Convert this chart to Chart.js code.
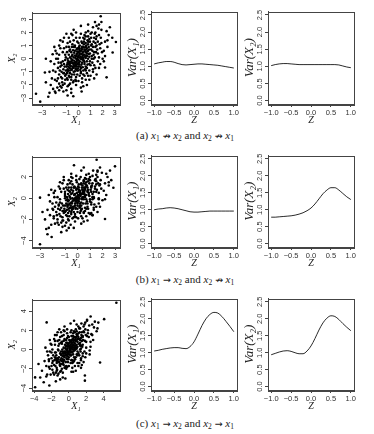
<!DOCTYPE html>
<html><head><meta charset="utf-8">
<script src="https://cdn.jsdelivr.net/npm/chart.js@4.4.1/dist/chart.umd.min.js"></script>
<style>
html,body{margin:0;padding:0;background:#fff;width:374px;height:434px;overflow:hidden}
canvas{position:absolute}
.cap{position:absolute;left:0;width:370px;text-align:center;font-family:'Liberation Serif','DejaVu Serif',serif;font-size:11px;color:#222;line-height:12px;white-space:nowrap}
.cap i{font-style:italic}
.cap sub{font-size:7.5px;vertical-align:-2px;line-height:0}
.cap .ar{font-family:'DejaVu Sans',sans-serif;font-size:9.5px}
</style></head><body>
<canvas id="sa"></canvas><canvas id="la1"></canvas><canvas id="la2"></canvas>
<canvas id="sb"></canvas><canvas id="lb1"></canvas><canvas id="lb2"></canvas>
<canvas id="sc"></canvas><canvas id="lc1"></canvas><canvas id="lc2"></canvas>
<div class="cap" id="capA" style="top:129px">(a) <i>x</i><sub>1</sub> <span class="ar">↛</span> <i>x</i><sub>2</sub> and <i>x</i><sub>2</sub> <span class="ar">↛</span> <i>x</i><sub>1</sub></div>
<div class="cap" id="capB" style="top:273px">(b) <i>x</i><sub>1</sub> <span class="ar">→</span> <i>x</i><sub>2</sub> and <i>x</i><sub>2</sub> <span class="ar">↛</span> <i>x</i><sub>1</sub></div>
<div class="cap" id="capC" style="top:417px">(c) <i>x</i><sub>1</sub> <span class="ar">→</span> <i>x</i><sub>2</sub> and <i>x</i><sub>2</sub> <span class="ar">→</span> <i>x</i><sub>1</sub></div>
<script>
// ---------- data ----------
const zGrid = [-1,-0.9,-0.8,-0.7,-0.6,-0.5,-0.4,-0.3,-0.2,-0.1,0,0.1,0.2,0.3,0.4,0.5,0.6,0.7,0.8,0.9,1];
const varA1 = [1.07,1.10,1.12,1.14,1.14,1.12,1.08,1.05,1.04,1.05,1.06,1.07,1.07,1.06,1.05,1.04,1.03,1.01,0.99,0.97,0.95];
const varA2 = [1.02,1.05,1.07,1.08,1.08,1.07,1.06,1.05,1.05,1.05,1.05,1.05,1.05,1.05,1.05,1.05,1.05,1.04,1.01,0.98,0.96];
const varB1 = [1.00,1.02,1.03,1.05,1.06,1.05,1.03,1.00,0.97,0.94,0.93,0.93,0.94,0.95,0.96,0.96,0.96,0.96,0.96,0.96,0.96];
const varB2 = [0.78,0.78,0.79,0.80,0.81,0.82,0.84,0.87,0.91,0.97,1.05,1.17,1.32,1.47,1.58,1.65,1.65,1.58,1.48,1.38,1.30];
const varC1 = [1.05,1.07,1.10,1.12,1.14,1.15,1.15,1.13,1.12,1.18,1.32,1.55,1.80,2.00,2.13,2.19,2.17,2.07,1.93,1.78,1.62];
const varC2 = [0.94,0.98,1.02,1.05,1.06,1.04,1.00,0.97,0.97,1.05,1.20,1.42,1.67,1.88,2.02,2.09,2.07,1.98,1.86,1.75,1.65];

const varTicks = [0,0.5,1,1.5,2,2.5];
const zTicks = [-1,-0.5,0,0.5,1];
const ticksA_x = [-3,-2,-1,0,1,2,3], ticksA_y = [-3,-2,-1,0,1,2,3];
const ticksB_x = [-3,-2,-1,0,1,2,3], ticksB_y = [-4,-2,0,2];
const ticksC_x = [-4,-2,0,2,4], ticksC_y = [-4,-2,0,2,4];

const pointsA = [[-0.2,-0.5],[0.1,0.3],[-0.6,-0.2],[0.4,0.9],[-0.9,-0.8],[0.7,0.2],[0.0,-0.1],[-0.3,0.6],[0.5,-0.4],[-0.8,-0.3],
[0.3,0.1],[-0.4,-1.0],[0.8,1.1],[-0.7,0.1],[0.2,-0.7],[-0.1,0.8],[0.6,0.5],[-0.5,-0.6],[0.95,0.4],[-0.8,-1.3],
[0.1,-0.2],[-0.2,0.2],[0.9,1.5],[-0.95,-1.1],[0.4,-0.1],[-0.6,0.5],[0.3,1.2],[-0.3,-0.3],[0.6,-0.6],[-0.9,0.0],
[0.85,0.9],[-0.1,-0.9],[0.5,0.7],[-0.4,0.1],[0.0,0.5],[-1.0,-0.6],[0.8,0.0],[-0.2,-1.4],[0.2,0.6],[-0.7,-0.9],
[0.95,1.3],[-0.5,0.3],[0.3,-0.3],[-0.75,-0.7],[0.7,0.8],[-0.1,0.0],[0.4,0.3],[-0.8,-0.4],[0.0,-0.6],[0.5,1.5],
[-0.35,-0.15],[0.15,0.05],[-0.65,-0.55],[0.25,-0.45],[-0.15,0.35],[0.55,0.15],[-0.45,-0.35],[0.65,1.0],[-0.85,-0.15],[0.05,0.75],
[-0.25,-0.75],[0.35,0.45],[-0.55,-1.2],[0.75,0.55],[-0.05,-0.35],[0.45,-0.15],[-0.95,-0.45],[0.85,0.35],[-0.35,0.45],[0.15,-0.85],
[-0.6,-1.6],[0.3,0.9],[-0.15,-0.05],[0.6,1.2],[-0.45,0.65],[0.05,-0.3],[-0.75,-0.25],[0.9,0.7],[-0.3,-0.95],[0.4,0.55],
[-0.1,0.4],[0.2,0.0],[-0.5,-0.1],[0.7,-0.2],[-0.9,-1.0],[0.1,1.0],[-0.2,-0.25],[0.5,0.3],[-0.65,-0.75],[0.35,-0.65],
[-0.4,-0.45],[0.8,0.6],[-0.05,0.15],[0.25,0.35],[-0.7,-0.5],[0.6,0.9],[-0.25,0.05],[0.0,0.25],[-0.55,-0.85],[0.45,1.1],
[-0.15,-0.6],[0.65,0.25],[-0.85,-0.6],[0.15,0.55],[-0.35,-1.2],[0.75,1.4],[-0.6,0.0],[0.3,-0.05],[-0.1,-0.15],[0.55,0.6],
[-0.8,0.3],[0.2,-1.1],[-0.45,-0.7],[0.9,0.15],[-0.3,0.25],[0.1,0.65],[-0.7,-1.1],[0.4,0.05],[-0.2,-0.8],[0.65,0.7],
[-0.5,-0.3],[0.05,-0.45],[-0.9,-0.3],[0.8,1.3],[-0.1,0.55],[0.35,0.2],[-0.65,-0.35],[0.5,-0.25],[-0.35,-0.55],[0.25,0.8],
[-0.75,-1.4],[0.7,0.4],[-0.05,-0.75],[0.15,0.15],[-0.55,0.2],[0.6,0.05],[-0.25,-0.4],[0.45,0.85],[-0.85,-0.9],[0.0,0.1],
[-0.5,1.1],[0.3,-1.5],[-0.8,0.9],[0.6,2.0],[-0.2,-2.0],[0.9,-0.9],[-0.9,-2.1],[0.1,1.6],[-0.4,1.4],[0.7,-1.1],
[-0.6,-2.3],[0.2,1.9],[0.0,-1.7],[-0.3,1.0],[0.5,-1.3],[-0.7,-1.9],[0.8,2.1],[-0.1,1.3],[0.4,-0.9],[-0.95,0.5],
[1.2,0.9],[-1.2,-1.1],[1.5,1.0],[-1.4,-0.5],[1.1,0.2],[-1.1,-1.6],[1.7,1.8],[-1.6,-1.2],[1.3,0.5],[-1.3,-0.2],
[1.9,1.2],[-1.8,-1.7],[1.4,2.0],[-1.5,-2.1],[1.05,1.6],[-1.05,0.1],[1.6,0.4],[-1.7,-0.7],[1.25,1.3],[-1.25,-0.8],
[1.8,0.8],[-1.9,-1.0],[1.15,-0.3],[-1.15,-1.9],[1.45,1.5],[-1.45,-1.4],[1.65,2.3],[-1.65,-0.3],[1.35,0.1],[-1.35,-1.5],
[1.05,0.7],[-1.05,-0.9],[1.75,1.1],[-1.75,-2.2],[1.2,2.4],[-1.2,-0.4],[1.55,0.7],[-1.55,-0.9],[1.9,2.2],[-1.95,-1.6],
[1.1,1.1],[-1.1,-1.3],[1.3,-0.5],[-1.3,0.5],[1.7,0.1],[-1.7,-1.5],[1.5,1.7],[-1.5,-0.6],[1.85,1.6],[-1.85,0.0],
[1.25,0.3],[-1.25,-2.5],[1.6,1.3],[-1.6,-1.9],[1.4,0.9],[-1.4,-1.0],[1.0,1.9],[-1.0,-2.4],[1.15,0.6],[-1.15,-0.6],
[1.95,0.5],[-1.9,-2.6],[1.35,1.9],[-1.35,-1.8],[1.7,2.6],[-1.6,0.3],
[2.2,1.3],[-2.2,-1.5],[2.5,1.8],[-2.4,-1.0],[2.1,0.6],[-2.1,-2.3],[2.8,1.6],[-2.7,-1.8],[2.33,2.1],[-2.14,0.34],
[-2.7,0.0],[3.1,1.27],[2.83,0.47],[2.2,-0.67],[2.33,-1.42],[-3.52,-2.67],[-3.17,-3.27],[-0.43,-2.86],[-1.95,-2.5],[0.26,-2.5],
[-2.78,-1.05],[1.84,3.24],[1.37,2.79],[2.6,2.4],[-2.5,-2.9],[2.0,0.0],[-2.0,-0.4],[2.4,0.9],[-2.3,-2.0],[0.8,2.6],[-0.9,-2.8],
[-1.5,0.8],[1.2,-1.0],[-0.8,1.6],[0.9,-1.6],[-2.0,0.9],[1.8,-0.4],[-1.3,1.3],[0.4,-2.1],[-0.4,2.2],[1.5,-1.2],
[-1.8,0.4],[2.1,-0.2],[-1.0,1.9],[0.7,-2.0],[-2.3,-0.2],[1.9,2.8],[-0.6,-2.6],[0.2,2.5],[-1.6,1.0],[1.3,-1.5],
[-0.3,0.9],[0.2,-1.0],[-0.7,0.7],[0.6,-0.9],[-1.1,0.3],[1.0,-0.5],[-0.9,1.2],[0.8,-1.3],[-0.4,-1.7],[0.5,1.8],
[-1.3,-2.0],[1.4,1.2],[-0.2,1.6],[0.1,-1.3],[-0.6,-1.4],[1.1,2.0],[-1.0,0.9],[0.3,-1.8],[-0.5,1.8],[0.9,-0.4],
[0.0,1.2],[-0.1,-1.2],[0.4,1.6],[-0.8,-2.0],[1.2,-0.8],[-1.2,0.8],[0.6,1.7],[-0.2,-1.7],[0.7,-0.7],[-0.7,1.3],
[1.6,-0.2],[-1.6,-2.4],[0.3,0.7],[-0.3,-0.6],[0.8,1.7],[-0.9,-1.6],[1.3,1.6],[-1.4,-2.2],[0.1,0.4],[-0.1,-0.4],
[-1.9,0.6],[2.2,0.2],[-2.1,-0.9],[1.7,-0.7],[-1.2,1.6],[1.0,-1.3],[-0.4,0.9],[0.4,-1.2],[-1.7,0.0],[1.5,2.5],
[-0.6,1.9],[0.6,-1.6],[-1.1,-0.1],[1.1,0.0],[-0.2,2.0],[0.2,-2.2],[-1.5,1.4],[1.4,-0.7],[-2.4,-2.6],[2.4,1.4],
[0.05,0.9],[-0.05,-0.9],[0.55,-0.8],[-0.55,0.9],[1.05,1.0],[-1.05,-1.2],[0.25,1.3],[-0.25,-1.6],[0.75,-0.45],[-0.75,0.6],
[1.25,0.0],[-1.25,-1.1],[0.45,1.3],[-0.45,-1.8],[1.45,0.5],[-1.45,-0.3],[0.95,-0.2],[-0.95,-1.5],[0.15,-0.6],[-0.15,0.7]];

const pointsB = [[-0.1,-0.3],[0.2,0.5],[-0.5,-0.4],[0.5,1.0],[-0.8,-0.6],[0.6,0.1],[0.05,-0.2],[-0.35,0.7],[0.45,-0.5],[-0.9,-0.2],
[0.25,0.2],[-0.45,-1.1],[0.75,1.2],[-0.65,0.2],[0.15,-0.8],[-0.05,0.9],[0.55,0.6],[-0.55,-0.7],[0.9,0.5],[-0.75,-1.4],
[0.0,0.0],[-0.25,0.3],[0.85,1.6],[-0.95,-1.2],[0.35,0.0],[-0.6,0.6],[0.3,1.3],[-0.3,-0.2],[0.65,-0.5],[-0.85,0.1],
[0.8,1.0],[-0.15,-1.0],[0.4,0.8],[-0.4,0.0],[0.1,0.6],[-1.0,-0.7],[0.7,-0.1],[-0.2,-1.5],[0.2,0.7],[-0.7,-1.0],
[0.95,1.4],[-0.5,0.4],[0.3,-0.4],[-0.8,-0.8],[0.6,0.9],[-0.1,0.1],[0.45,0.4],[-0.75,-0.3],[0.0,-0.7],[0.5,1.6],
[-0.3,-0.1],[0.1,0.1],[-0.6,-0.5],[0.2,-0.5],[-0.2,0.4],[0.6,0.3],[-0.4,-0.3],[0.7,1.1],[-0.8,-0.1],[0.1,0.8],
[-0.3,-0.8],[0.4,0.5],[-0.5,-1.3],[0.8,0.6],[0.0,-0.4],[0.5,-0.1],[-0.9,-0.5],[0.9,0.3],[-0.4,0.5],[0.2,-0.9],
[-0.65,-1.7],[0.35,1.0],[-0.1,-0.1],[0.65,1.3],[-0.5,0.8],[0.1,-0.3],[-0.7,-0.2],[0.85,0.8],[-0.35,-1.0],[0.45,0.6],
[-0.05,0.5],[0.15,-0.05],[-0.55,-0.05],[0.75,-0.3],[-0.85,-1.1],[0.05,1.1],[-0.15,-0.3],[0.55,0.4],[-0.6,-0.9],[0.3,-0.7],
[-0.45,-0.5],[0.8,0.7],[0.0,0.2],[0.3,0.4],[-0.7,-0.6],[0.6,1.0],[-0.2,0.0],[0.05,0.3],[-0.5,-0.9],[0.4,1.2],
[-0.2,-0.7],[0.7,0.3],[-0.8,-0.7],[0.2,0.6],[-0.3,-1.3],[0.7,1.5],[-0.6,0.1],[0.35,-0.1],[-0.1,-0.2],[0.5,0.7],
[-0.75,0.4],[0.25,-1.2],[-0.4,-0.8],[0.95,0.2],[-0.25,0.3],[0.15,0.7],[-0.65,-1.2],[0.45,0.1],[-0.15,-0.9],[0.6,0.8],
[-0.4,1.3],[0.3,-1.7],[-0.7,1.0],[0.7,2.2],[-0.2,-2.2],[0.85,-1.0],[-0.9,-2.3],[0.15,1.8],[-0.5,1.6],[0.6,-1.2],
[-0.55,-2.5],[0.25,2.0],[0.05,-1.9],[-0.25,1.1],[0.5,-1.4],[-0.75,-2.0],[0.9,2.3],[-0.05,1.5],[0.35,-1.0],[-1.0,0.6],
[1.1,1.0],[-1.1,-1.2],[1.4,1.1],[-1.5,-0.6],[1.2,0.1],[-1.2,-1.8],[1.6,2.0],[-1.7,-1.3],[1.3,0.6],[-1.4,-0.1],
[1.8,1.3],[-1.9,-1.9],[1.5,2.2],[-1.6,-2.3],[1.0,1.7],[-1.0,0.2],[1.7,0.5],[-1.8,-0.8],[1.2,1.4],[-1.3,-0.9],
[1.9,0.9],[-1.95,-1.1],[1.1,-0.4],[-1.15,-2.1],[1.5,1.6],[-1.45,-1.5],[1.6,2.5],[-1.7,-0.4],[1.3,0.0],[-1.35,-1.7],
[1.05,0.8],[-1.05,-1.0],[1.75,1.2],[-1.8,-2.4],[1.25,2.6],[-1.25,-0.5],[1.55,0.8],[-1.55,-1.0],[1.95,2.4],[-1.9,-1.7],
[1.15,1.2],[-1.1,-1.4],[1.35,-0.6],[-1.3,0.6],[1.7,0.0],[-1.65,-1.6],[1.45,1.8],[-1.5,-0.7],[1.85,1.7],[-1.85,0.1],
[1.2,0.4],[-1.2,-2.7],[1.65,1.4],[-1.6,-2.0],[1.4,0.9],[-1.4,-1.1],[1.0,2.0],[-1.0,-2.6],[1.1,0.6],[-1.15,-0.7],
[2.2,1.4],[-2.2,-1.6],[2.4,2.0],[-2.4,-1.1],[2.1,0.7],[-2.1,-2.5],[2.7,1.7],[-2.6,-2.0],[2.3,2.3],[-2.3,0.3],
[1.53,3.62],[-0.28,3.1],[3.0,3.0],[-3.0,-4.34],[-3.0,0.05],[-2.07,-3.66],[-2.4,-3.4],[-0.87,-3.04],[2.2,-1.96],[2.87,0.99],
[2.5,1.2],[-2.5,-2.9],[2.0,-0.2],[-2.0,-0.5],[0.5,2.9],[-1.3,-3.2],[2.6,2.6],[-2.8,-1.3],[1.2,-1.6],[-0.3,-2.8],
[-1.4,0.9],[1.3,-1.1],[-0.7,1.7],[1.0,-1.5],[-2.1,0.8],[1.7,-0.5],[-1.2,1.4],[0.5,-2.2],[-0.5,2.3],[1.6,-1.3],
[-1.9,0.5],[2.2,-0.1],[-1.1,2.0],[0.8,-2.1],[-2.2,-0.3],[1.8,2.9],[-0.7,-2.8],[0.3,2.6],[-1.5,1.1],[1.2,-1.6],
[-0.2,1.0],[0.3,-1.1],[-0.8,0.8],[0.7,-1.0],[-1.0,0.4],[1.1,-0.6],[-0.8,1.3],[0.9,-1.4],[-0.3,-1.8],[0.6,1.9],
[-1.2,-2.1],[1.5,1.3],[-0.1,1.7],[0.2,-1.4],[-0.5,-1.5],[1.2,2.1],[-0.9,1.0],[0.4,-1.9],[-0.4,1.9],[1.0,-0.3],
[0.1,1.3],[0.0,-1.3],[0.5,1.7],[-0.7,-2.1],[1.3,-0.9],[-1.1,0.9],[0.7,1.8],[-0.1,-1.8],[0.8,-0.8],[-0.6,1.4],
[1.7,-0.1],[-1.5,-2.5],[0.4,0.8],[-0.2,-0.5],[0.9,1.8],[-0.8,-1.7],[1.4,1.7],[-1.3,-2.3],[0.2,0.3],[0.0,-0.5],
[-1.8,0.7],[2.3,0.3],[-2.0,-1.0],[1.8,-0.8],[-1.1,1.7],[1.1,-1.4],[-0.3,1.0],[0.5,-1.3],[-1.6,0.1],[1.6,2.6],
[-0.5,2.0],[0.7,-1.7],[-1.0,0.0],[1.2,-0.1],[-0.1,2.1],[0.3,-2.4],[-1.4,1.5],[1.5,-0.8],[-2.3,-2.8],[2.5,1.5],
[0.1,1.0],[0.0,-1.0],[0.6,-0.9],[-0.5,1.0],[1.1,1.1],[-1.0,-1.3],[0.3,1.4],[-0.2,-1.7],[0.8,-0.5],[-0.7,0.7],
[1.3,0.1],[-1.2,-1.2],[0.5,1.4],[-0.4,-1.9],[1.5,0.6],[-1.4,-0.4],[1.0,-0.1],[-0.9,-1.6],[0.2,-0.7],[-0.1,0.8]];

const pointsC = [[0.1,0.2],[-0.4,-0.6],[0.6,0.4],[-0.9,-0.5],[0.3,1.0],[-0.2,-0.1],[0.8,1.1],[-0.6,0.2],[0.0,-0.8],[0.5,-0.2],
[-1.1,-1.3],[0.2,0.5],[-0.3,0.4],[1.0,0.8],[-0.7,-1.0],[0.4,0.0],[-0.1,-0.4],[0.9,1.6],[-0.5,-0.2],[0.15,0.9],
[-0.8,-1.5],[0.7,0.6],[-0.25,-0.9],[0.35,0.3],[-1.0,-0.4],[1.1,1.3],[-0.45,0.5],[0.55,1.2],[-0.15,0.1],[0.25,-0.6],
[-0.65,-0.7],[0.85,0.2],[-0.35,-1.3],[0.45,0.7],[-0.05,0.6],[0.65,-0.1],[-0.95,-1.1],[0.05,-0.2],[1.15,0.6],[-0.55,-0.3],
[0.3,0.2],[-0.7,-0.2],[0.9,0.9],[-0.2,-0.5],[0.4,1.4],[-1.15,-0.8],[0.6,0.0],[-0.4,0.1],[0.1,-0.5],[0.75,1.0],
[-0.85,-0.9],[0.2,0.3],[-0.3,-0.3],[1.05,1.1],[-0.6,-1.2],[0.5,0.5],[-0.1,0.3],[0.8,0.4],[-0.75,0.0],[0.0,0.4],
[-0.5,-0.8],[0.35,-0.3],[-0.15,-0.7],[0.95,1.4],[-1.05,-1.6],[0.25,0.8],[-0.45,-0.4],[0.7,0.2],[-0.25,0.0],[0.55,0.9],
[-0.9,-0.2],[0.15,-0.1],[-0.6,-0.6],[1.0,0.3],[-0.35,0.3],[0.45,1.1],[-0.05,-0.3],[0.65,0.7],[-0.8,-1.2],[0.1,0.0],
[-0.2,-1.0],[0.85,1.3],[-0.7,-0.4],[0.3,0.6],[-1.2,-1.0],[0.6,1.0],[-0.4,-0.2],[0.05,0.7],[-0.55,-1.1],[0.9,0.5],
[-0.1,-0.2],[0.4,0.2],[-0.85,-0.6],[0.2,-0.3],[-0.3,0.7],[0.75,0.0],[-0.65,-1.4],[1.1,1.7],[-0.15,0.5],[0.5,-0.5],
[-0.5,1.1],[0.4,-1.4],[-0.9,0.7],[0.8,2.1],[-0.3,-2.0],[1.0,-0.6],[-1.0,-2.3],[0.2,1.8],[-0.6,1.5],[0.7,-1.0],
[-0.7,-2.4],[0.3,2.0],[0.0,-1.7],[-0.2,1.2],[0.6,-1.2],[-0.8,-2.0],[1.1,2.4],[-0.1,1.4],[0.35,-1.1],[-1.1,0.6],
[1.3,1.0],[-1.3,-1.2],[1.6,1.4],[-1.6,-0.8],[1.4,0.4],[-1.4,-1.9],[1.9,2.1],[-1.9,-1.4],[1.5,0.9],[-1.5,-0.3],
[2.2,1.7],[-2.2,-2.0],[1.7,2.4],[-1.8,-2.4],[1.25,1.8],[-1.25,0.0],[2.0,0.8],[-2.0,-0.9],[1.45,1.5],[-1.45,-1.0],
[2.3,1.3],[-2.3,-1.2],[1.35,-0.2],[-1.35,-2.1],[1.75,1.8],[-1.7,-1.6],[1.9,2.8],[-2.0,-0.3],[1.55,0.3],[-1.55,-1.7],
[1.3,0.7],[-1.3,-0.9],[2.1,1.4],[-2.1,-2.6],[1.45,2.7],[-1.45,-0.6],[1.85,0.9],[-1.85,-1.2],[2.35,2.5],[-2.3,-1.8],
[1.4,1.2],[-1.4,-1.4],[1.6,-0.4],[-1.6,0.5],[2.0,0.2],[-2.0,-1.7],[1.7,1.9],[-1.8,-0.6],[2.2,2.0],[-2.2,-0.2],
[1.3,0.4],[-1.3,-2.7],[1.95,1.5],[-1.9,-2.1],[1.65,1.0],[-1.65,-1.1],[1.2,2.2],[-1.2,-2.5],[1.5,1.3],[-1.5,-0.9],
[2.6,1.6],[-2.6,-1.7],[2.9,2.3],[-2.8,-1.2],[2.5,0.8],[-2.5,-2.6],[3.2,1.9],[-3.1,-2.2],[2.7,2.6],[-2.7,0.2],
[5.48,4.87],[4.07,3.16],[2.51,3.44],[-2.56,2.82],[-3.89,-2.89],[-3.89,-3.92],[1.85,-3.23],[1.85,-2.7],[3.6,-1.35],[-2.25,-3.74],
[3.0,2.9],[-3.3,-2.9],[2.4,-0.5],[-2.4,-0.6],[0.6,3.0],[-1.5,-3.3],[3.4,2.8],[-3.5,-1.5],[1.4,-1.9],[-0.4,-3.0],
[2.8,1.0],[3.3,2.2],[2.1,3.0],[-2.9,-3.4],[0.9,2.6],[-1.0,-3.1],
[-1.6,0.9],[1.4,-1.1],[-0.9,1.8],[1.1,-1.7],[-2.2,1.0],[2.0,-0.4],[-1.4,1.5],[0.5,-2.3],[-0.5,2.4],[1.7,-1.3],
[-2.0,0.5],[2.4,-0.1],[-1.1,2.1],[0.8,-2.2],[-2.5,-0.2],[2.1,3.1],[-0.7,-2.9],[0.2,2.7],[-1.7,1.1],[1.5,-1.6],
[-0.3,1.0],[0.3,-1.1],[-0.8,0.8],[0.7,-1.0],[-1.2,0.4],[1.2,-0.6],[-1.0,1.3],[1.0,-1.4],[-0.4,-1.8],[0.6,1.9],
[-1.4,-2.2],[1.6,1.3],[-0.2,1.7],[0.2,-1.4],[-0.6,-1.6],[1.3,2.2],[-1.1,1.0],[0.4,-1.9],[-0.5,1.9],[1.1,-0.4],
[0.0,1.3],[-0.1,-1.3],[0.5,1.7],[-0.9,-2.2],[1.4,-0.9],[-1.3,0.9],[0.7,1.8],[-0.2,-1.8],[0.8,-0.8],[-0.8,1.4],
[1.8,-0.2],[-1.7,-2.6],[0.3,0.8],[-0.3,-0.6],[0.9,1.9],[-1.0,-1.7],[1.5,1.8],[-1.5,-2.4],[0.1,0.4],[-0.1,-0.5],
[-2.1,0.6],[2.5,0.3],[-2.3,-1.0],[1.9,-0.8],[-1.3,1.8],[1.2,-1.4],[-0.4,1.0],[0.5,-1.3],[-1.9,0.0],[1.8,2.6],
[-0.6,2.0],[0.7,-1.7],[-1.2,-0.1],[1.3,0.0],[-0.2,2.1],[0.3,-2.3],[-1.6,1.5],[1.6,-0.7],[-2.6,-2.8],[2.7,1.5],
[0.05,1.0],[-0.05,-1.0],[0.6,-0.8],[-0.6,0.9],[1.2,1.1],[-1.2,-1.3],[0.3,1.4],[-0.3,-1.7],[0.9,-0.5],[-0.8,0.6],
[1.4,0.1],[-1.4,-1.2],[0.5,1.4],[-0.5,-1.9],[1.6,0.5],[-1.6,-0.3],[1.0,-0.2],[-1.0,-1.5],[0.2,-0.6],[-0.2,0.7],
[0.4,0.4],[0.8,0.9],[1.0,1.5],[0.6,0.2],[0.2,0.1],[0.9,0.1],[0.5,1.0],[1.3,0.5],[0.7,1.3],[0.3,-0.2]];

// ---------- helpers ----------
const MINUS = '\u2212';
const fmt1 = v => (v < 0 ? MINUS : '') + Math.abs(v).toFixed(1);
const fmt0 = v => (v < 0 ? MINUS : '') + Math.abs(Math.round(v));
const TICK_FONT = {family: "'Liberation Sans', Arial, sans-serif", size: 7.5};
const AX = '#444';

const framePlugin = {
  id: 'frame',
  afterDatasetsDraw(c) {
    const a = c.chartArea, ctx = c.ctx;
    ctx.save(); ctx.strokeStyle = AX; ctx.lineWidth = 1;
    ctx.strokeRect(Math.round(a.left) + 0.5, Math.round(a.top) + 0.5, Math.round(a.right - a.left), Math.round(a.bottom - a.top));
    ctx.restore();
  }
};

function panel(id, o) {
  const padTop = 4, padRight = 8;
  const cv = document.getElementById(id);
  const w = (o.R - o.L) + o.yW + padRight, h = (o.B - o.T) + padTop + o.xH;
  cv.width = w; cv.height = h;
  cv.style.left = (o.L - o.yW) + 'px'; cv.style.top = (o.T - padTop) + 'px';
  cv.style.width = w + 'px'; cv.style.height = h + 'px';
  const axisCommon = (ticks) => ({
    afterBuildTicks: s => { s.ticks = ticks.map(v => ({value: v})); },
    grid: {display: true, drawOnChartArea: false, drawTicks: true, tickLength: 3, color: AX, lineWidth: 1},
    border: {display: true, color: AX, width: 1}
  });
  new Chart(cv, {
    type: o.type,
    data: {datasets: o.datasets},
    options: {
      responsive: false, animation: false, devicePixelRatio: 1, events: [],
      layout: {padding: {top: padTop, right: padRight, left: 0, bottom: 0}},
      plugins: {legend: {display: false}, tooltip: {enabled: false}},
      scales: {
        x: Object.assign(axisCommon(o.xTicks), {
          type: 'linear', min: o.xMin, max: o.xMax,
          afterFit: s => { s.height = o.xH; },
          ticks: {font: TICK_FONT, color: '#333', padding: 1, maxRotation: 0, minRotation: 0, autoSkip: false,
            callback: v => (o.xHide && o.xHide.includes(v)) ? '' : o.xFmt(v)},
          title: {display: true, text: o.xTitle, color: '#222', padding: {top: 0, bottom: 0},
            font: {family: "'Liberation Serif', 'Times New Roman', serif", size: 10, style: 'italic'}}
        }),
        y: Object.assign(axisCommon(o.yTicks), {
          type: 'linear', min: o.yMin, max: o.yMax,
          afterFit: s => { s.width = o.yW; },
          ticks: {font: TICK_FONT, color: '#333', padding: o.yPad, minRotation: 90, maxRotation: 90, autoSkip: false, crossAlign: 'center',
            callback: v => o.yFmt(v)},
          title: {display: true, text: o.yTitle, color: '#222', padding: {top: o.yTitlePad, bottom: 0},
            font: {family: "'Liberation Serif', 'Times New Roman', serif", size: o.yTitleSize, style: 'italic'}}
        })
      }
    },
    plugins: [framePlugin]
  });
}

function scatterSet(pts) {
  return [{data: pts.map(p => ({x: p[0], y: p[1]})), pointRadius: 1.3, pointHoverRadius: 0,
    backgroundColor: '#000', borderWidth: 0, pointStyle: 'circle'}];
}
function lineSet(vals) {
  return [{data: zGrid.map((z, i) => ({x: z, y: vals[i]})), borderColor: '#2a2a2a', borderWidth: 1,
    pointRadius: 0, tension: 0.4, cubicInterpolationMode: 'monotone', fill: false}];
}

const rows = [{T: 11, B: 104}, {T: 155, B: 247}, {T: 298, B: 390}];
const cols = [{L: 32, R: 120}, {L: 151, R: 237}, {L: 268, R: 354}];

function scatterPanel(id, r, pts, xr, yr, xt, yt, xHide) {
  panel(id, Object.assign({}, rows[r], cols[0], {type: 'scatter', yW: 32, xH: 22, yPad: 1, yTitlePad: 6, yTitleSize: 10,
    xMin: xr[0], xMax: xr[1], yMin: yr[0], yMax: yr[1], xTicks: xt, yTicks: yt, xHide: xHide,
    xFmt: fmt0, yFmt: fmt0, xTitle: 'X\u2081', yTitle: 'X\u2082', datasets: scatterSet(pts)}));
}
function linePanel(id, r, c, vals, title) {
  panel(id, Object.assign({}, rows[r], cols[c], {type: 'line', yW: 28, xH: 22, yPad: 0, yTitlePad: 2, yTitleSize: 13,
    xMin: -1.08, xMax: 1.08, yMin: -0.1, yMax: 2.6, xTicks: zTicks, yTicks: varTicks,
    xFmt: fmt1, yFmt: fmt1, xTitle: 'Z', yTitle: title, datasets: lineSet(vals)}));
}

scatterPanel('sa', 0, pointsA, [-3.85, 3.44], [-3.45, 3.52], ticksA_x, ticksA_y, [-2]);
linePanel('la1', 0, 1, varA1, 'Var(X\u2081)');
linePanel('la2', 0, 2, varA2, 'Var(X\u2082)');
scatterPanel('sb', 1, pointsB, [-3.64, 3.4], [-4.6, 3.93], ticksB_x, ticksB_y, [-2]);
linePanel('lb1', 1, 1, varB1, 'Var(X\u2081)');
linePanel('lb2', 1, 2, varB2, 'Var(X\u2082)');
scatterPanel('sc', 2, pointsC, [-4.25, 5.9], [-4.2, 5.2], ticksC_x, ticksC_y, []);
linePanel('lc1', 2, 1, varC1, 'Var(X\u2081)');
linePanel('lc2', 2, 2, varC2, 'Var(X\u2082)');
</script>
</body></html>
